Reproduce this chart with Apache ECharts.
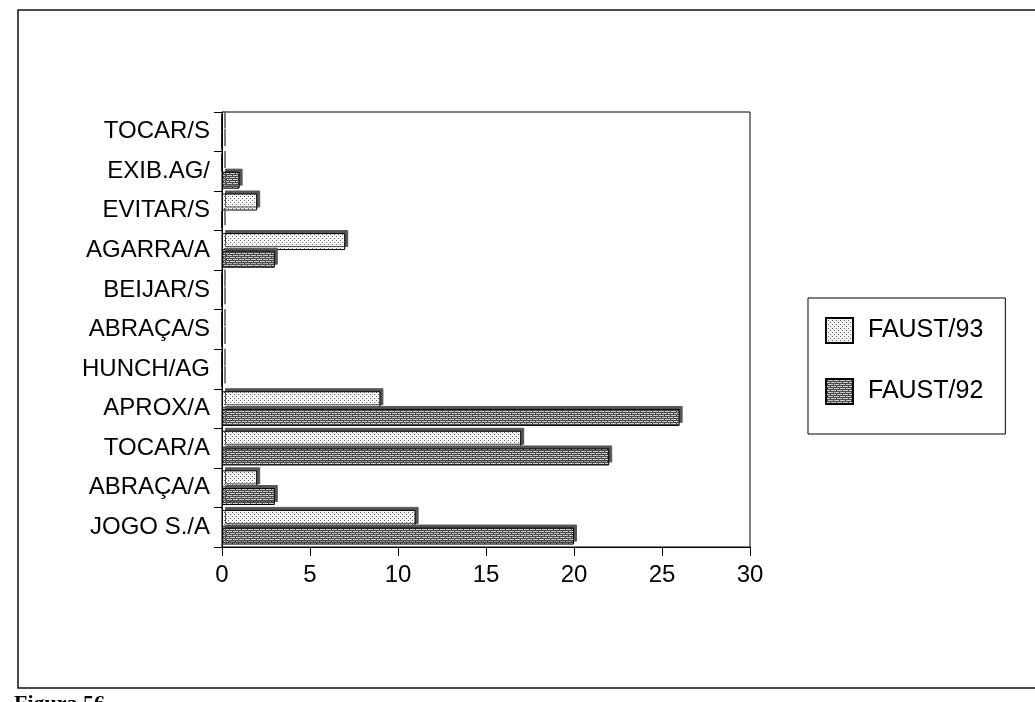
<!DOCTYPE html>
<html>
<head>
<meta charset="utf-8">
<script src="https://cdn.jsdelivr.net/npm/echarts@6/dist/echarts.min.js"></script>
<style>html,body{margin:0;padding:0;background:#fff;}#c{width:1035px;height:702px;}</style>
</head>
<body>
<div id="c"></div>
<script>
const categories = ['JOGO S./A','ABRAÇA/A','TOCAR/A','APROX/A','HUNCH/AG','ABRAÇA/S','BEIJAR/S','AGARRA/A','EVITAR/S','EXIB.AG/','TOCAR/S'];
const faust93 = [11, 2, 17, 9, 0, 0, 0, 7, 2, 0, 0];
const faust92 = [20, 3, 22, 26, 0, 0, 0, 3, 0, 1, 0];
const xTicks = [0, 5, 10, 15, 20, 25, 30];

function dotPattern() {
  const c = document.createElement('canvas'); c.width = 4; c.height = 4;
  const g = c.getContext('2d');
  g.fillStyle = '#f4f4f4'; g.fillRect(0, 0, 4, 4);
  g.fillStyle = '#6a6a6a'; g.fillRect(0, 0, 1, 1); g.fillRect(2, 2, 1, 1);
  return c;
}
function hatchPattern() {
  const c = document.createElement('canvas'); c.width = 6; c.height = 4;
  const g = c.getContext('2d');
  g.fillStyle = '#c8c8c8'; g.fillRect(0, 0, 6, 4);
  g.fillStyle = '#4a4a4a'; g.fillRect(0, 0, 6, 1); g.fillRect(0, 2, 6, 1);
  g.fillRect(1, 1, 1, 1); g.fillRect(4, 3, 1, 1);
  return c;
}

const font = '"Liberation Sans", Arial, sans-serif';
const chart = echarts.init(document.getElementById('c'), null, {renderer: 'canvas'});
chart.setOption({
  backgroundColor: '#fff',
  animation: false,
  textStyle: {fontFamily: font, color: '#000'},
  graphic: [
    {type: 'rect', shape: {x: 18, y: 10, width: 1040, height: 678}, style: {fill: 'none', stroke: '#111', lineWidth: 1.5}, silent: true},
    {type: 'text', left: 14, top: 693, style: {text: 'Figura 56.', font: 'bold 22px "Liberation Serif", serif', fill: '#000'}}
  ],
  grid: {left: 222, right: 285, top: 112, bottom: 155, show: true, borderColor: '#000', borderWidth: 1, backgroundColor: 'transparent'},
  legend: {
    orient: 'vertical', left: 808, top: 298,
    data: ['FAUST/93', 'FAUST/92'],
    itemWidth: 27, itemHeight: 25, itemGap: 34,
    padding: [19, 22, 29, 17],
    borderColor: '#000', borderWidth: 1,
    textStyle: {fontSize: 25, fontFamily: font, color: '#000', padding: [0, 0, 0, 10]},
    icon: 'rect'
  },
  xAxis: {
    type: 'value', min: 0, max: 30, interval: 5,
    axisLine: {show: true, lineStyle: {color: '#000'}},
    axisTick: {show: true, length: 9, lineStyle: {color: '#000'}},
    axisLabel: {fontSize: 24, color: '#000', margin: 16, fontFamily: font,
      formatter: v => xTicks.indexOf(v) >= 0 ? String(v) : ''},
    splitLine: {show: false}
  },
  yAxis: {
    type: 'category', data: categories,
    axisLine: {show: true, lineStyle: {color: '#000'}},
    axisTick: {show: true, length: 8, lineStyle: {color: '#000'}},
    axisLabel: {fontSize: 24, color: '#000', margin: 12, fontFamily: font},
    splitLine: {show: false}
  },
  series: [
    {
      name: 'FAUST/93', type: 'bar', data: faust93, barWidth: 17, barGap: '4%',
      itemStyle: {color: {image: dotPattern(), repeat: 'repeat'}, borderColor: '#000', borderWidth: 1,
        shadowColor: '#555', shadowOffsetX: 3, shadowOffsetY: -3, shadowBlur: 0}
    },
    {
      name: 'FAUST/92', type: 'bar', data: faust92, barWidth: 17, barGap: '4%',
      itemStyle: {color: {image: hatchPattern(), repeat: 'repeat'}, borderColor: '#000', borderWidth: 1,
        shadowColor: '#555', shadowOffsetX: 3, shadowOffsetY: -3, shadowBlur: 0}
    }
  ]
});
</script>
</body>
</html>
